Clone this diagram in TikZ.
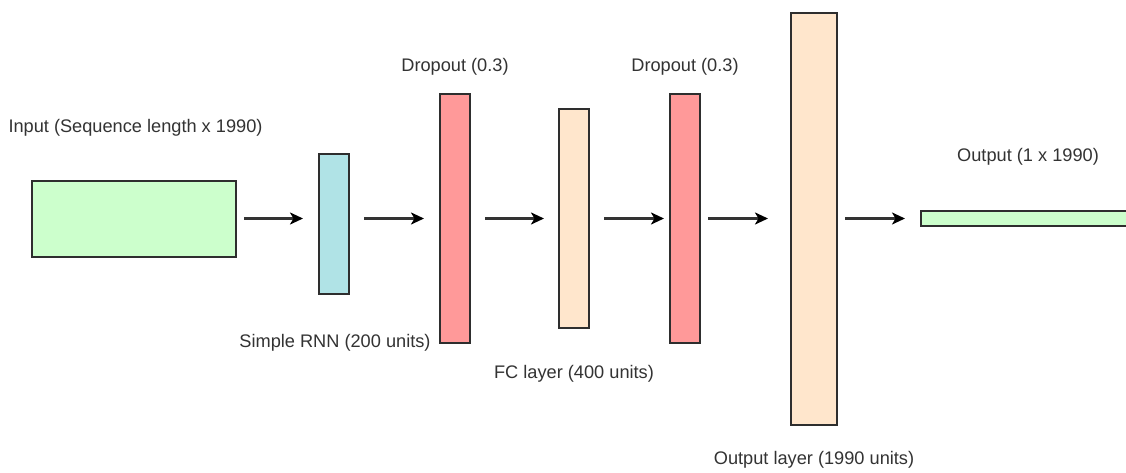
\documentclass[tikz,border=0pt]{standalone}
\usepackage{fontspec}
\setmainfont{Liberation Sans}
\usetikzlibrary{arrows.meta}
\definecolor{inputgreen}{HTML}{CCFFCC}
\definecolor{rnnblue}{HTML}{B0E3E6}
\definecolor{droppink}{HTML}{FF9999}
\definecolor{densepeach}{HTML}{FFE6CC}
\definecolor{edgegrey}{HTML}{2E2E2E}
\definecolor{labelgrey}{HTML}{333333}
\tikzset{
  layer/.style={draw=edgegrey, line width=1.3pt, inner sep=0pt, outer sep=0pt},
  flow/.style={draw=black!80, line width=2.3pt, -{Stealth[length=13pt,width=12pt,inset=3.5pt,color=black]}},
  caption/.style={text=labelgrey, font=\fontsize{18.2}{21}\selectfont, inner sep=0pt, anchor=center}
}
\begin{document}
\begin{tikzpicture}[x=1pt,y=-1pt]
  \useasboundingbox (0,0) rectangle (1126,473);
  \clip (0,0) rectangle (1126,473);
  \fill[white] (0,0) rectangle (1126,473);

  % layer blocks
  \node[layer, fill=inputgreen, minimum width=204pt, minimum height=76pt] (inp) at (134,219) {};
  \node[layer, fill=rnnblue, minimum width=30pt, minimum height=140pt] (rnn) at (334,224) {};
  \node[layer, fill=droppink, minimum width=30pt, minimum height=249pt] (drop1) at (455,218.5) {};
  \node[layer, fill=densepeach, minimum width=30pt, minimum height=219pt] (fc) at (574,218.5) {};
  \node[layer, fill=droppink, minimum width=30pt, minimum height=249pt] (drop2) at (685,218.5) {};
  \node[layer, fill=densepeach, minimum width=46pt, minimum height=412pt] (outl) at (814,219) {};
  \node[layer, fill=inputgreen, minimum width=240pt, minimum height=15pt] (outv) at (1041,218.5) {};

  % captions
  \node[caption] (tin) at (135.5,128) {Input (Sequence length x 1990)};
  \node[caption] (trnn) at (335,343) {Simple RNN (200 units)};
  \node[caption] (tdrop1) at (455,67) {Dropout (0.3)};
  \node[caption] (tfc) at (574,374) {FC layer (400 units)};
  \node[caption] (tdrop2) at (685,67) {Dropout (0.3)};
  \node[caption] (toutl) at (814,460) {Output layer (1990 units)};
  \node[caption] (toutv) at (1028,157) {Output (1 x 1990)};

  % data flow between layers
  \draw[flow] ([xshift=8pt]inp.east |- drop1.east) -- ([xshift=-16pt]rnn.west |- drop1.east);
  \draw[flow] ([xshift=15pt]rnn.east |- drop1.east) -- ([xshift=-16pt]drop1.west);
  \draw[flow] ([xshift=15pt]drop1.east) -- ([xshift=-15pt]fc.west);
  \draw[flow] ([xshift=15pt]fc.east) -- ([xshift=-6pt]drop2.west);
  \draw[flow] ([xshift=8pt]drop2.east) -- ([xshift=-23pt]outl.west |- drop2.east);
  \draw[flow] ([xshift=8pt]outl.east |- drop2.east) -- ([xshift=-16pt]outv.west);
\end{tikzpicture}
\end{document}
